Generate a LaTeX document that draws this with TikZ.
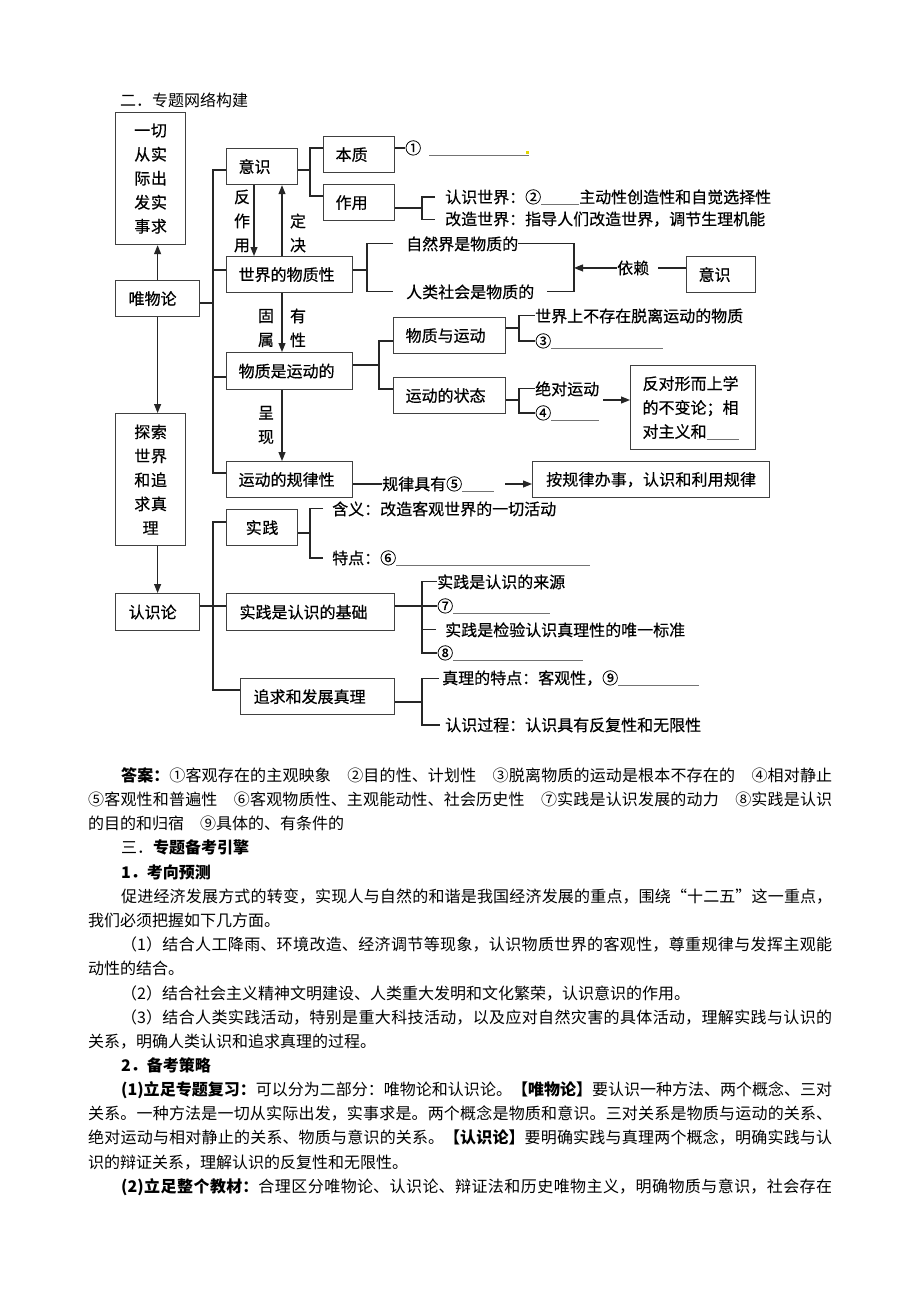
\documentclass[tikz,border=0pt]{standalone}
\usepackage{fontspec}
\setmainfont{Noto Sans CJK SC}
\newfontfamily\dgfam{Noto Sans CJK SC}[FakeBold=0.5]
\usetikzlibrary{arrows.meta}
\XeTeXlinebreaklocale "zh"
\XeTeXlinebreakskip=0pt plus 1.5pt minus 0.3pt
\newcommand\dfont{\dgfam\fontsize{16pt}{24pt}\selectfont}
\newcommand\bfont{\fontsize{16pt}{24pt}\selectfont}
\newcommand\uln[1]{{\color{black!55}\rule[-1.5pt]{#1}{0.6pt}}}
\newcommand\gp{\hskip 1em plus 4pt minus 1pt\relax}
\newcommand\jl[4]{\node[anchor=base west,inner sep=0pt] (#1) at (#2) {\parbox[b]{#3}{\bfont\parfillskip=0pt\relax\noindent #4}};}
\tikzset{
 x=1pt,y=-1pt,
 ln/.style={draw=black!85,line width=1.1pt},
 arr/.style={ln,-{Triangle[length=9pt,width=7pt]}},
 bx/.style={draw=black!75,line width=1.2pt,anchor=north west,inner ysep=0pt,font=\dfont},
 lb/.style={inner sep=0pt,anchor=base west,font=\dfont},
 tb/.style={inner sep=0pt,anchor=base west,font=\bfont},
 lbc/.style={inner sep=0pt,align=center,font=\dfont},
}
\begin{document}
\begin{tikzpicture}
\path[use as bounding box,fill=white] (0,0) rectangle (920,1302);

% title
\node[tb] (title) at (120,106) {二．专题网络构建};

% boxes
\node[bx,minimum width=70,minimum height=132,inner xsep=5pt,text width=60pt,align=center] (yiqie) at (115,112) {一切\\从实\\际出\\发实\\事求};
\node[bx,minimum width=84,minimum height=36,inner xsep=13pt,text width=58pt,align=left] (wwl) at (115,280) {唯物论};
\node[bx,minimum width=70,minimum height=132,inner xsep=5pt,text width=60pt,align=center] (tansuo) at (115,413) {探索\\世界\\和追\\求真\\理};
\node[bx,minimum width=84,minimum height=37,inner xsep=13pt,text width=58pt,align=left] (rsl) at (115,593) {认识论};

\node[bx,minimum width=71,minimum height=36,inner xsep=12pt,text width=47pt,align=left] (yishi) at (226,148) {意识};
\node[bx,minimum width=126,minimum height=36,inner xsep=12pt,text width=102pt,align=left] (sjwzx) at (226,256) {世界的物质性};
\node[bx,minimum width=126,minimum height=37,inner xsep=12pt,text width=102pt,align=left] (wzsyd) at (226,352) {物质是运动的};
\node[bx,minimum width=126,minimum height=36,inner xsep=12pt,text width=102pt,align=left] (ydgl) at (226,461) {运动的规律性};
\node[bx,minimum width=71,minimum height=36,inner xsep=12pt,text width=47pt,align=left] (benzhi) at (323,136) {本质};
\node[bx,minimum width=71,minimum height=36,inner xsep=12pt,text width=47pt,align=left] (zuoyong) at (323,184) {作用};
\node[bx,minimum width=69,minimum height=36,inner xsep=12pt,text width=45pt,align=left] (yishi2) at (686,256) {意识};
\node[bx,minimum width=112,minimum height=36,inner xsep=12pt,text width=88pt,align=left] (wzyyd) at (393,317) {物质与运动};
\node[bx,minimum width=112,minimum height=36,inner xsep=12pt,text width=88pt,align=left] (ydzt) at (393,377) {运动的状态};
\node[bx,minimum width=125,minimum height=84,inner xsep=12pt,text width=101pt,align=left] (fandui) at (630,365) {反对形而上学\\的不变论；相\\对主义和\uln{32pt}};
\node[bx,minimum width=237,minimum height=36,inner xsep=10pt,text width=217pt,align=center] (aglbs) at (532,461) {按规律办事，认识和利用规律};
\node[bx,minimum width=71,minimum height=36,inner xsep=5pt,text width=61pt,align=center] (shijian) at (226,509) {实践};
\node[bx,minimum width=168,minimum height=37,inner xsep=13pt,text width=142pt,align=left] (sjjc) at (226,593) {实践是认识的基础};
\node[bx,minimum width=154,minimum height=36,inner xsep=13pt,text width=128pt,align=left] (zqfz) at (240,678) {追求和发展真理};

% left column arrows
\draw[arr] (wwl.north) -- (yiqie.south -| wwl.north);
\draw[arr] (wwl.south) -- (tansuo.north -| wwl.south);
\draw[arr] (tansuo.south -| wwl.south) -- (rsl.north);

% upper spine
\coordinate (sA) at (213,170);
\coordinate (sB) at (213,270);
\coordinate (sC) at (213,303);
\coordinate (sD) at (213,377);
\coordinate (sE) at (213,473);
\draw[ln] (yishi.west |- sA) -- (sA) -- (sE) -- (ydgl.west |- sE);
\draw[ln] (sjwzx.west |- sB) -- (sB);
\draw[ln] (wwl.east |- sC) -- (sC);
\draw[ln] (wzsyd.west |- sD) -- (sD);

% vertical arrows in the middle column
\draw[arr] (yishi.south -| 254,0) -- (sjwzx.north -| 254,0);
\draw[arr] (sjwzx.north -| 282,0) -- (yishi.south -| 282,0);
\draw[arr] (sjwzx.south -| 282,0) -- (wzsyd.north -| 282,0);
\draw[arr] (wzsyd.south -| 282,0) -- (ydgl.north -| 282,0);
\node[lbc] (lfzy) at (242,221) {反\\作\\用};
\node[lbc] (ldj) at (298,233) {定\\决};
\node[lbc] (lgs) at (266,328) {固\\属};
\node[lbc] (lyx) at (298,328) {有\\性};
\node[lbc] (lcx) at (266,425) {呈\\现};

% yishi branch
\coordinate (jy) at (310,170);
\coordinate (jy1) at (310,148);
\coordinate (jy2) at (310,196);
\draw[ln] (yishi.east |- jy) -- (jy);
\draw[ln] (benzhi.west |- jy1) -- (jy1) -- (jy2) -- (zuoyong.west |- jy2);

% benzhi -> (1)
\node[lb] (n1) at (405,154) {①\hspace{8pt}\uln{100pt}};
\draw[ln] (benzhi.east |- jy1) -- (n1.west |- jy1);
\fill[yellow!75!olive] (525.5,150.5) rectangle (528.5,153.5);

% zuoyong bracket
\coordinate (jz) at (422,208);
\draw[ln] (zuoyong.east |- jz) -- (jz);
\node[lb] (trs) at (445,203) {认识世界：②\uln{38pt}主动性创造性和自觉选择性};
\node[lb] (tgz) at (445,225) {改造世界：指导人们改造世界，调节生理机能};
\draw[ln] ([xshift=-10pt]trs.west) -| (jz) |- ([xshift=-10pt]tgz.west);

% world materiality bracket
\coordinate (jw) at (367,270);
\draw[ln] (sjwzx.east |- jw) -- (jw);
\node[lb] (tzr) at (406,250) {自然界是物质的};
\node[lb] (trl) at (406,298) {人类社会是物质的};
\draw[ln] ([xshift=-13pt]tzr.west) -| (jw) |- ([xshift=-13pt]trl.west);
\coordinate (jd) at (574,268);
\draw[ln] (tzr.east) -| (jd) |- ([xshift=13pt]trl.east);
\node[lb] (tyl) at (617,274) {依赖};
\draw[arr] (tyl.west) -- (tyl.west -| jd);
\draw[ln] ([xshift=9pt]tyl.east) -- (yishi2.west |- tyl.east);

% motion bracket
\coordinate (jm) at (379,365);
\draw[ln] (wzsyd.east |- jm) -- (jm);
\draw[ln] (wzyyd.west |- 0,341) -| (jm) |- (ydzt.west |- 0,389);

% matter and motion
\coordinate (jn) at (519,328);
\draw[ln] (wzyyd.east |- jn) -- (jn);
\node[lb] (tsj) at (535,322) {世界上不存在脱离运动的物质};
\node[lb] (t3) at (535,347) {③\uln{112pt}};
\draw[ln] (tsj.west) -| (jn) |- (t3.west);

% states of motion
\coordinate (jt) at (519,400);
\draw[ln] (ydzt.east |- jt) -- (jt);
\node[lb] (tjd) at (535,395) {绝对运动};
\node[lb] (t4) at (535,419) {④\uln{48pt}};
\draw[ln] (tjd.west) -| (jt) |- (t4.west);
\draw[arr] ([xshift=4pt]tjd.east |- jt) -- (fandui.west |- jt);

% laws
\node[lb] (t5) at (382,490) {规律具有⑤\uln{32pt}};
\draw[ln] (ydgl.east |- t5.west) -- (t5.west);
\draw[arr] ([xshift=11pt]t5.east) -- (aglbs.west |- t5.east);

% lower spine
\coordinate (sF) at (213,522);
\coordinate (sG) at (213,606);
\coordinate (sH) at (213,690);
\draw[ln] (shijian.west |- sF) -- (sF) -- (sH) -- (zqfz.west |- sH);
\draw[ln] (rsl.east |- sG) -- (sjjc.west |- sG);

% practice bracket
\coordinate (jp) at (310,533);
\draw[ln] (shijian.east |- jp) -- (jp);
\node[lb] (thy) at (332,515) {含义：改造客观世界的一切活动};
\node[lb] (ttd) at (332,564) {特点：⑥\uln{194pt}};
\draw[ln] ([xshift=-9pt]thy.west) -| (jp) |- ([xshift=-9pt]ttd.west);

% practice is the basis bracket
\coordinate (jj) at (422,606);
\draw[ln] (sjjc.east |- jj) -- (jj);
\node[lb] (tly) at (437,588) {实践是认识的来源};
\node[lb] (t7) at (437,612) {⑦\uln{97pt}};
\node[lb] (tjy) at (445,636) {实践是检验认识真理性的唯一标准};
\node[lb] (t8) at (437,659) {⑧\uln{130pt}};
\draw[ln] (tly.west) -| (jj) |- (t8.west);
\draw[ln] (t7.west) -- (t7.west -| jj);
\draw[ln] ([xshift=-9pt]tjy.west) -- (tjy.west -| jj);

% truth bracket
\coordinate (jq) at (422,702);
\draw[ln] (zqfz.east |- jq) -- (jq);
\node[lb] (tzl) at (442,684) {真理的特点：客观性，⑨\uln{81pt}};
\node[lb] (trg) at (445,731) {认识过程：认识具有反复性和无限性};
\draw[ln] ([xshift=-3pt]tzl.west) -| (jq) |- ([xshift=-5pt]trg.west);

% body text
\jl{L1}{121,781}{711pt}{{\bfseries 答案：}①客观存在的主观映象\gp ②目的性、计划性\gp ③脱离物质的运动是根本不存在的\gp ④相对静止}
\jl{L2}{88,805}{744pt}{⑤客观性和普遍性\gp ⑥客观物质性、主观能动性、社会历史性\gp ⑦实践是认识发展的动力\gp ⑧实践是认识}
\node[tb] (L3) at (88,829) {的目的和归宿\gp ⑨具体的、有条件的};
\node[tb] (L4) at (121,853) {三．{\bfseries 专题备考引擎}};
\node[tb] (L5) at (121,878) {\bfseries 1．考向预测};
\jl{L6}{121,902}{711pt}{促进经济发展方式的转变，实现人与自然的和谐是我国经济发展的重点，围绕“十二五”这一重点，}
\node[tb] (L7) at (88,926) {我们必须把握如下几方面。};
\jl{L8}{121,950}{711pt}{（1）结合人工降雨、环境改造、经济调节等现象，认识物质世界的客观性，尊重规律与发挥主观能}
\node[tb] (L9) at (88,974) {动性的结合。};
\node[tb] (L10) at (121,999) {（2）结合社会主义精神文明建设、人类重大发明和文化繁荣，认识意识的作用。};
\jl{L11}{121,1023}{711pt}{（3）结合人类实践活动，特别是重大科技活动，以及应对自然灾害的具体活动，理解实践与认识的}
\node[tb] (L12) at (88,1047) {关系，明确人类认识和追求真理的过程。};
\node[tb] (L13) at (121,1071) {\bfseries 2．备考策略};
\jl{L14}{121,1095}{711pt}{{\bfseries (1)立足专题复习：}可以分为二部分：唯物论和认识论。{\bfseries 【唯物论】}要认识一种方法、两个概念、三对}
\jl{L15}{88,1119}{744pt}{关系。一种方法是一切从实际出发，实事求是。两个概念是物质和意识。三对关系是物质与运动的关系、}
\jl{L16}{88,1143}{744pt}{绝对运动与相对静止的关系、物质与意识的关系。{\bfseries 【认识论】}要明确实践与真理两个概念，明确实践与认}
\node[tb] (L17) at (88,1168) {识的辩证关系，理解认识的反复性和无限性。};
\jl{L18}{121,1192}{711pt}{{\bfseries (2)立足整个教材：}合理区分唯物论、认识论、辩证法和历史唯物主义，明确物质与意识，社会存在}
\end{tikzpicture}
\end{document}
